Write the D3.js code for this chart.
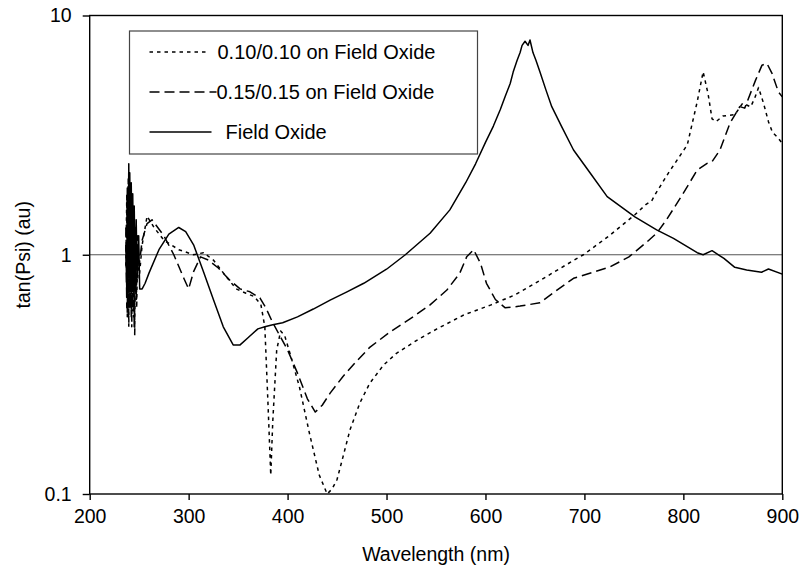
<!DOCTYPE html>
<html>
<head>
<meta charset="utf-8">
<script src="https://cdn.jsdelivr.net/npm/d3@7"></script>
<style>
  body { margin: 0; background: #fff; }
  text { font-family: "Liberation Sans", Arial, sans-serif; }
</style>
</head>
<body>
<div id="chart"></div>
<script>
// wavelength (nm), tan(Psi)
const fieldOxide = [
  [236.5, 1.1], [237.5, 0.7], [238, 1.9], [238.5, 0.65], [239.5, 2.4], [240, 0.8], [240.5, 2.2],
  [241.5, 0.7], [242, 2.0], [243, 0.75], [243.5, 1.8], [244.5, 0.7], [245, 1.6], [246, 0.75],
  [247, 1.4], [248, 0.8], [249.5, 1.2], [250.5, 0.72], [253, 0.72], [256, 0.76], [260, 0.84],
  [270, 1.05], [280, 1.22], [290, 1.3], [297, 1.25], [305, 1.1], [315, 0.85], [325, 0.65],
  [335, 0.5], [345, 0.42], [352, 0.42], [360, 0.45], [370, 0.49], [377, 0.5], [385, 0.51],
  [395, 0.52], [410, 0.55], [426, 0.593], [443, 0.646], [460, 0.7], [477, 0.76], [500, 0.87],
  [519, 1.0], [544, 1.23], [564, 1.54], [580, 2.0], [590, 2.4], [600, 2.95], [608, 3.45],
  [615, 4.05], [620, 4.6], [625, 5.2], [628, 5.8], [632, 6.5], [635, 7.0], [637, 7.5],
  [640, 7.8], [643, 7.5], [645, 7.9], [648, 7.0], [651, 6.5], [655, 5.82], [661, 4.9],
  [667, 4.16], [677, 3.43], [689, 2.74], [706, 2.19], [723, 1.75], [751, 1.44], [773, 1.27],
  [790, 1.17], [814, 1.02], [820, 1.0], [829, 1.04], [837, 0.99], [841, 0.966], [852, 0.886],
  [864, 0.864], [879, 0.845], [886, 0.872], [900, 0.83]
]

const film010 = [
  [236.5, 0.9], [237.5, 1.8], [238, 0.55], [239, 2.1], [239.5, 0.5], [240.5, 1.9], [241, 0.6],
  [242, 1.7], [242.5, 0.5], [243.5, 1.6], [244, 0.55], [245, 1.5], [245.5, 0.46], [246.5, 1.3],
  [247.5, 0.6], [248.5, 1.1], [250, 0.8], [253, 1.1], [258, 1.45], [265, 1.3], [275, 1.15],
  [290, 1.05], [305, 1.0], [315, 1.02], [325, 0.95], [337, 0.82], [348, 0.72], [358, 0.69],
  [366, 0.67], [373, 0.62], [377, 0.5], [380, 0.25], [383, 0.12], [385, 0.2], [389, 0.4],
  [393, 0.48], [397, 0.46], [403, 0.38], [412, 0.28], [422, 0.18], [432, 0.12], [440, 0.1],
  [445, 0.105], [450, 0.115], [456, 0.143], [463, 0.185], [473, 0.24], [483, 0.29],
  [497, 0.346], [510, 0.387], [531, 0.44], [551, 0.49], [578, 0.56], [605, 0.616],
  [630, 0.68], [655, 0.78], [680, 0.9], [699, 1.0], [725, 1.2], [751, 1.47], [762, 1.62],
  [768, 1.68], [772, 1.8], [785, 2.2], [804, 2.88], [814, 4.36], [820, 5.82], [825, 4.7],
  [829, 3.7], [833, 3.6], [840, 3.8], [852, 3.85], [860, 4.3], [868, 4.15], [872, 4.5],
  [876, 5.0], [881, 4.3], [886, 3.6], [890, 3.25], [895, 3.1], [900, 2.92]
]

const film015 = [
  [236.5, 1.3], [237.5, 0.6], [238, 1.7], [239, 0.55], [239.5, 2.0], [240.5, 0.6], [241, 1.8],
  [242, 0.55], [242.5, 1.6], [243.5, 0.6], [244, 1.5], [245, 0.5], [246, 1.3], [247, 0.65],
  [248.5, 1.2], [250, 0.9], [253, 1.15], [258, 1.35], [263, 1.4], [275, 1.2], [285, 1.0],
  [295, 0.8], [300, 0.72], [305, 0.85], [312, 0.98], [320, 0.95], [330, 0.88], [342, 0.78],
  [352, 0.72], [362, 0.7], [372, 0.66], [378, 0.6], [385, 0.52], [392, 0.46], [400, 0.4],
  [410, 0.32], [420, 0.25], [428, 0.22], [435, 0.235], [443, 0.264], [456, 0.31], [470, 0.36],
  [483, 0.41], [504, 0.477], [527, 0.551], [544, 0.617], [561, 0.712], [574, 0.837],
  [581, 0.98], [588, 1.05], [595, 0.92], [601, 0.76], [610, 0.65], [620, 0.6], [635, 0.61],
  [655, 0.63], [670, 0.7], [689, 0.797], [726, 0.89], [745, 0.98], [763, 1.13], [773, 1.23],
  [783, 1.4], [800, 1.81], [814, 2.26], [824, 2.41], [829, 2.45], [837, 2.74], [847, 3.54],
  [857, 4.16], [862, 4.1], [873, 5.37], [879.5, 6.2], [884.5, 6.3], [889.6, 5.73],
  [896, 4.8], [900, 4.57]
]

const yTicks = [0.1, 1, 10]
const xTicks = [200, 300, 400, 500, 600, 700, 800, 900]

const legendItems = [
  { label: "0.10/0.10 on Field Oxide", dash: "3.5,4", data: film010 },
  { label: "0.15/0.15 on Field Oxide", dash: "10,5", data: film015 },
  { label: "Field Oxide", dash: null, data: fieldOxide }
]

const dimensions = {
  width: 805,
  height: 576,
  margin: { top: 15.5, right: 22.7, bottom: 82, left: 89.7 }
}
dimensions.boundedWidth = dimensions.width - dimensions.margin.left - dimensions.margin.right
dimensions.boundedHeight = dimensions.height - dimensions.margin.top - dimensions.margin.bottom

const wrapper = d3.select("#chart")
  .append("svg")
  .attr("width", dimensions.width)
  .attr("height", dimensions.height)

wrapper.append("rect")
  .attr("width", dimensions.width)
  .attr("height", dimensions.height)
  .attr("fill", "#fff")

const bounds = wrapper.append("g")
  .attr("transform", `translate(${dimensions.margin.left},${dimensions.margin.top})`)

const xScale = d3.scaleLinear()
  .domain([200, 900])
  .range([0, dimensions.boundedWidth])

const yScale = d3.scaleLog()
  .domain([0.1, 10])
  .range([dimensions.boundedHeight, 0])

// gridline at 1
bounds.append("line")
  .attr("x1", 0)
  .attr("x2", dimensions.boundedWidth)
  .attr("y1", yScale(1))
  .attr("y2", yScale(1))
  .attr("stroke", "#555")
  .attr("stroke-width", 1)

const clip = bounds.append("clipPath").attr("id", "plot-clip")
clip.append("rect")
  .attr("width", dimensions.boundedWidth)
  .attr("height", dimensions.boundedHeight)

const lineGenerator = d3.line()
  .x(d => xScale(d[0]))
  .y(d => yScale(d[1]))

bounds.append("g")
  .attr("clip-path", "url(#plot-clip)")
  .selectAll("path")
  .data(legendItems)
  .join("path")
    .attr("d", d => lineGenerator(d.data))
    .attr("fill", "none")
    .attr("stroke", "#000")
    .attr("stroke-width", 1.5)
    .attr("stroke-linejoin", "round")
    .attr("stroke-dasharray", d => d.dash)

// frame
bounds.append("rect")
  .attr("width", dimensions.boundedWidth)
  .attr("height", dimensions.boundedHeight)
  .attr("fill", "none")
  .attr("stroke", "#000")
  .attr("stroke-width", 1.4)

// axes
const yAxisGenerator = d3.axisLeft(yScale)
  .tickValues(yTicks)
  .tickFormat(d => d)
  .tickSize(7)
  .tickSizeOuter(0)
  .tickPadding(11)

const yAxis = bounds.append("g").call(yAxisGenerator)

const xAxisGenerator = d3.axisBottom(xScale)
  .tickValues(xTicks)
  .tickSize(6)
  .tickSizeOuter(0)
  .tickPadding(9)

const xAxis = bounds.append("g")
  .attr("transform", `translate(0,${dimensions.boundedHeight})`)
  .call(xAxisGenerator)

;[xAxis, yAxis].forEach(axis => {
  axis.select(".domain").remove()
  axis.selectAll(".tick line").attr("stroke", "#000").attr("stroke-width", 1.4)
  axis.selectAll(".tick text")
    .attr("fill", "#000")
    .style("font-size", "19.5px")
    .style("font-family", "'Liberation Sans', Arial, sans-serif")
})

// axis titles
wrapper.append("text")
  .attr("x", dimensions.margin.left + dimensions.boundedWidth / 2)
  .attr("y", 561)
  .attr("text-anchor", "middle")
  .attr("fill", "#000")
  .style("font-size", "19.5px")
  .text("Wavelength (nm)")

wrapper.append("text")
  .attr("transform", `translate(30,${dimensions.margin.top + dimensions.boundedHeight / 2}) rotate(-90)`)
  .attr("text-anchor", "middle")
  .attr("fill", "#000")
  .style("font-size", "19.5px")
  .text("tan(Psi) (au)")

// legend
const legendGroup = wrapper.append("g")
  .attr("transform", "translate(129.5,31)")

legendGroup.append("rect")
  .attr("width", 348)
  .attr("height", 123)
  .attr("fill", "#fff")
  .attr("stroke", "#444")
  .attr("stroke-width", 1.2)

const lineEnds = [80, 87, 82]
const textStarts = [88, 87, 96]

legendGroup.selectAll("line.key")
  .data(legendItems)
  .join("line")
    .attr("class", "key")
    .attr("x1", 20)
    .attr("x2", (d, i) => lineEnds[i])
    .attr("y1", (d, i) => 21 + i * 40)
    .attr("y2", (d, i) => 21 + i * 40)
    .attr("stroke", "#000")
    .attr("stroke-width", 1.5)
    .attr("stroke-dasharray", d => d.dash)

legendGroup.selectAll("text")
  .data(legendItems)
  .join("text")
    .attr("x", (d, i) => textStarts[i])
    .attr("y", (d, i) => 21 + i * 40)
    .attr("dy", "0.35em")
    .attr("fill", "#000")
    .style("font-size", "20px")
    .text(d => d.label)
</script>
</body>
</html>
